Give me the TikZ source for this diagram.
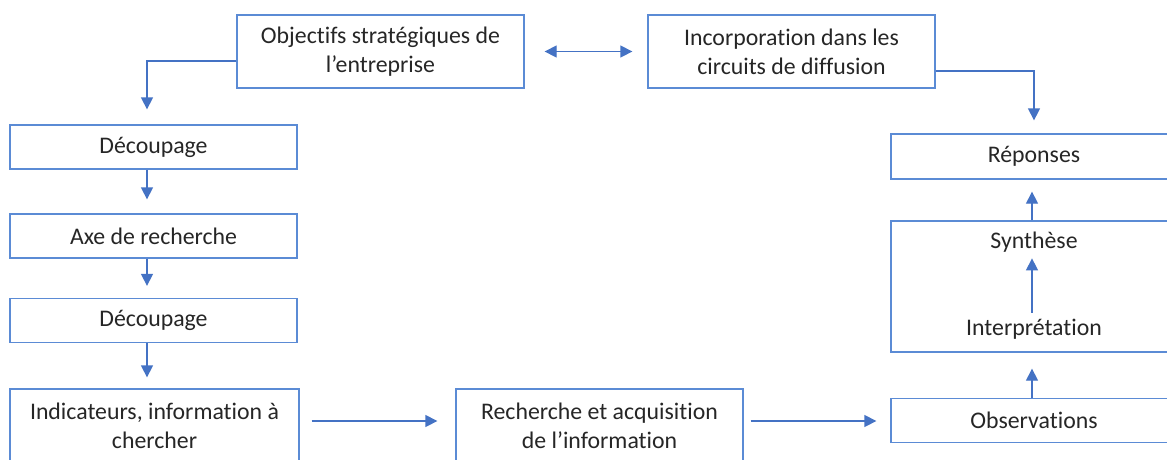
\documentclass[tikz,border=0pt]{standalone}
\usepackage{fontspec}
\setmainfont{Carlito}[Ligatures=NoCommon]
\usetikzlibrary{arrows.meta}
\definecolor{bleu}{RGB}{68,114,196}
\definecolor{bord}{RGB}{91,139,213}
\begin{document}
\begin{tikzpicture}[x=1pt, y=-1pt,
  etape/.style={draw=bord, line width=1.3pt, minimum width=287pt, minimum height=44pt, align=center, inner sep=2pt, text=black!85, font=\fontsize{23.8}{29}\selectfont},
  texte/.style={inner sep=2pt, text=black!85, font=\fontsize{23.8}{29}\selectfont},
  pointe/.tip={Triangle[width=12pt,length=12pt]},
  fleche/.style={draw=bleu, line width=1.3pt, -pointe}]
\clip (0,0) rectangle (1167,459);
\fill[white] (0,0) rectangle (1167,459);

\node[etape, minimum height=73pt] (obj) at (380.5,51.5) {Objectifs stratégiques de\\l’entreprise};
\node[etape, minimum height=73pt] (inc) at (791.5,51.5) {Incorporation dans les\\circuits de diffusion};
\node[etape] (dec1) at (153.5,147) {Découpage};
\node[etape] (axe) at (153.5,236) {Axe de recherche};
\node[etape] (dec2) at (153.5,320.5) {Découpage};
\node[etape, minimum width=289pt, minimum height=73pt] (ind) at (154.5,425.5) {Indicateurs, information à\\chercher};
\node[etape, minimum height=73pt] (rech) at (599.5,425.5) {Recherche et acquisition\\de l’information};
\node[etape, minimum width=286pt] (obs) at (1034,420.5) {Observations};
\node[etape, minimum width=286pt, minimum height=131pt] (bloc) at (1034,286.5) {};
\node[texte] (syn) at (1034,242) {Synthèse};
\node[texte] (int) at (1034,329) {Interprétation};
\node[etape, minimum width=286pt, minimum height=45pt] (rep) at (1034,156.5) {Réponses};

\draw[fleche, pointe-pointe, shorten <=20pt, shorten >=15pt] (obj.east) -- (inc.west);
\draw[fleche, shorten >=15pt] ([yshift=-9.5pt]obj.west) -| ([xshift=-6.5pt]dec1.north);
\draw[fleche, shorten >=13pt] ([yshift=-19.5pt]inc.east) -| (rep.north);
\draw[fleche, shorten >=14pt] ([xshift=-6.5pt]dec1.south) -- ([xshift=-6.5pt]axe.north);
\draw[fleche, shorten >=12pt] ([xshift=-6.5pt]axe.south) -- ([xshift=-6.5pt]dec2.north);
\draw[fleche, shorten >=11pt] ([xshift=-6.5pt]dec2.south) -- ([xshift=-6.5pt]dec2.south |- ind.north);
\draw[fleche, shorten <=12pt, shorten >=18pt] ([yshift=4.5pt]ind.east) -- ([yshift=4.5pt]rech.west);
\draw[fleche, shorten <=7pt, shorten >=14pt] ([yshift=4.5pt]rech.east) -- ([yshift=4.5pt]rech.east -| obs.west);
\draw[fleche, shorten >=16pt] ([xshift=-2pt]obs.north) -- ([xshift=-2pt]bloc.south);
\draw[fleche, shorten <=4pt, shorten >=4pt] ([xshift=-2pt]int.north) -- ([xshift=-2pt]syn.south);
\draw[fleche, shorten >=12pt] ([xshift=-2pt]bloc.north) -- ([xshift=-2pt]rep.south);
\end{tikzpicture}
\end{document}
